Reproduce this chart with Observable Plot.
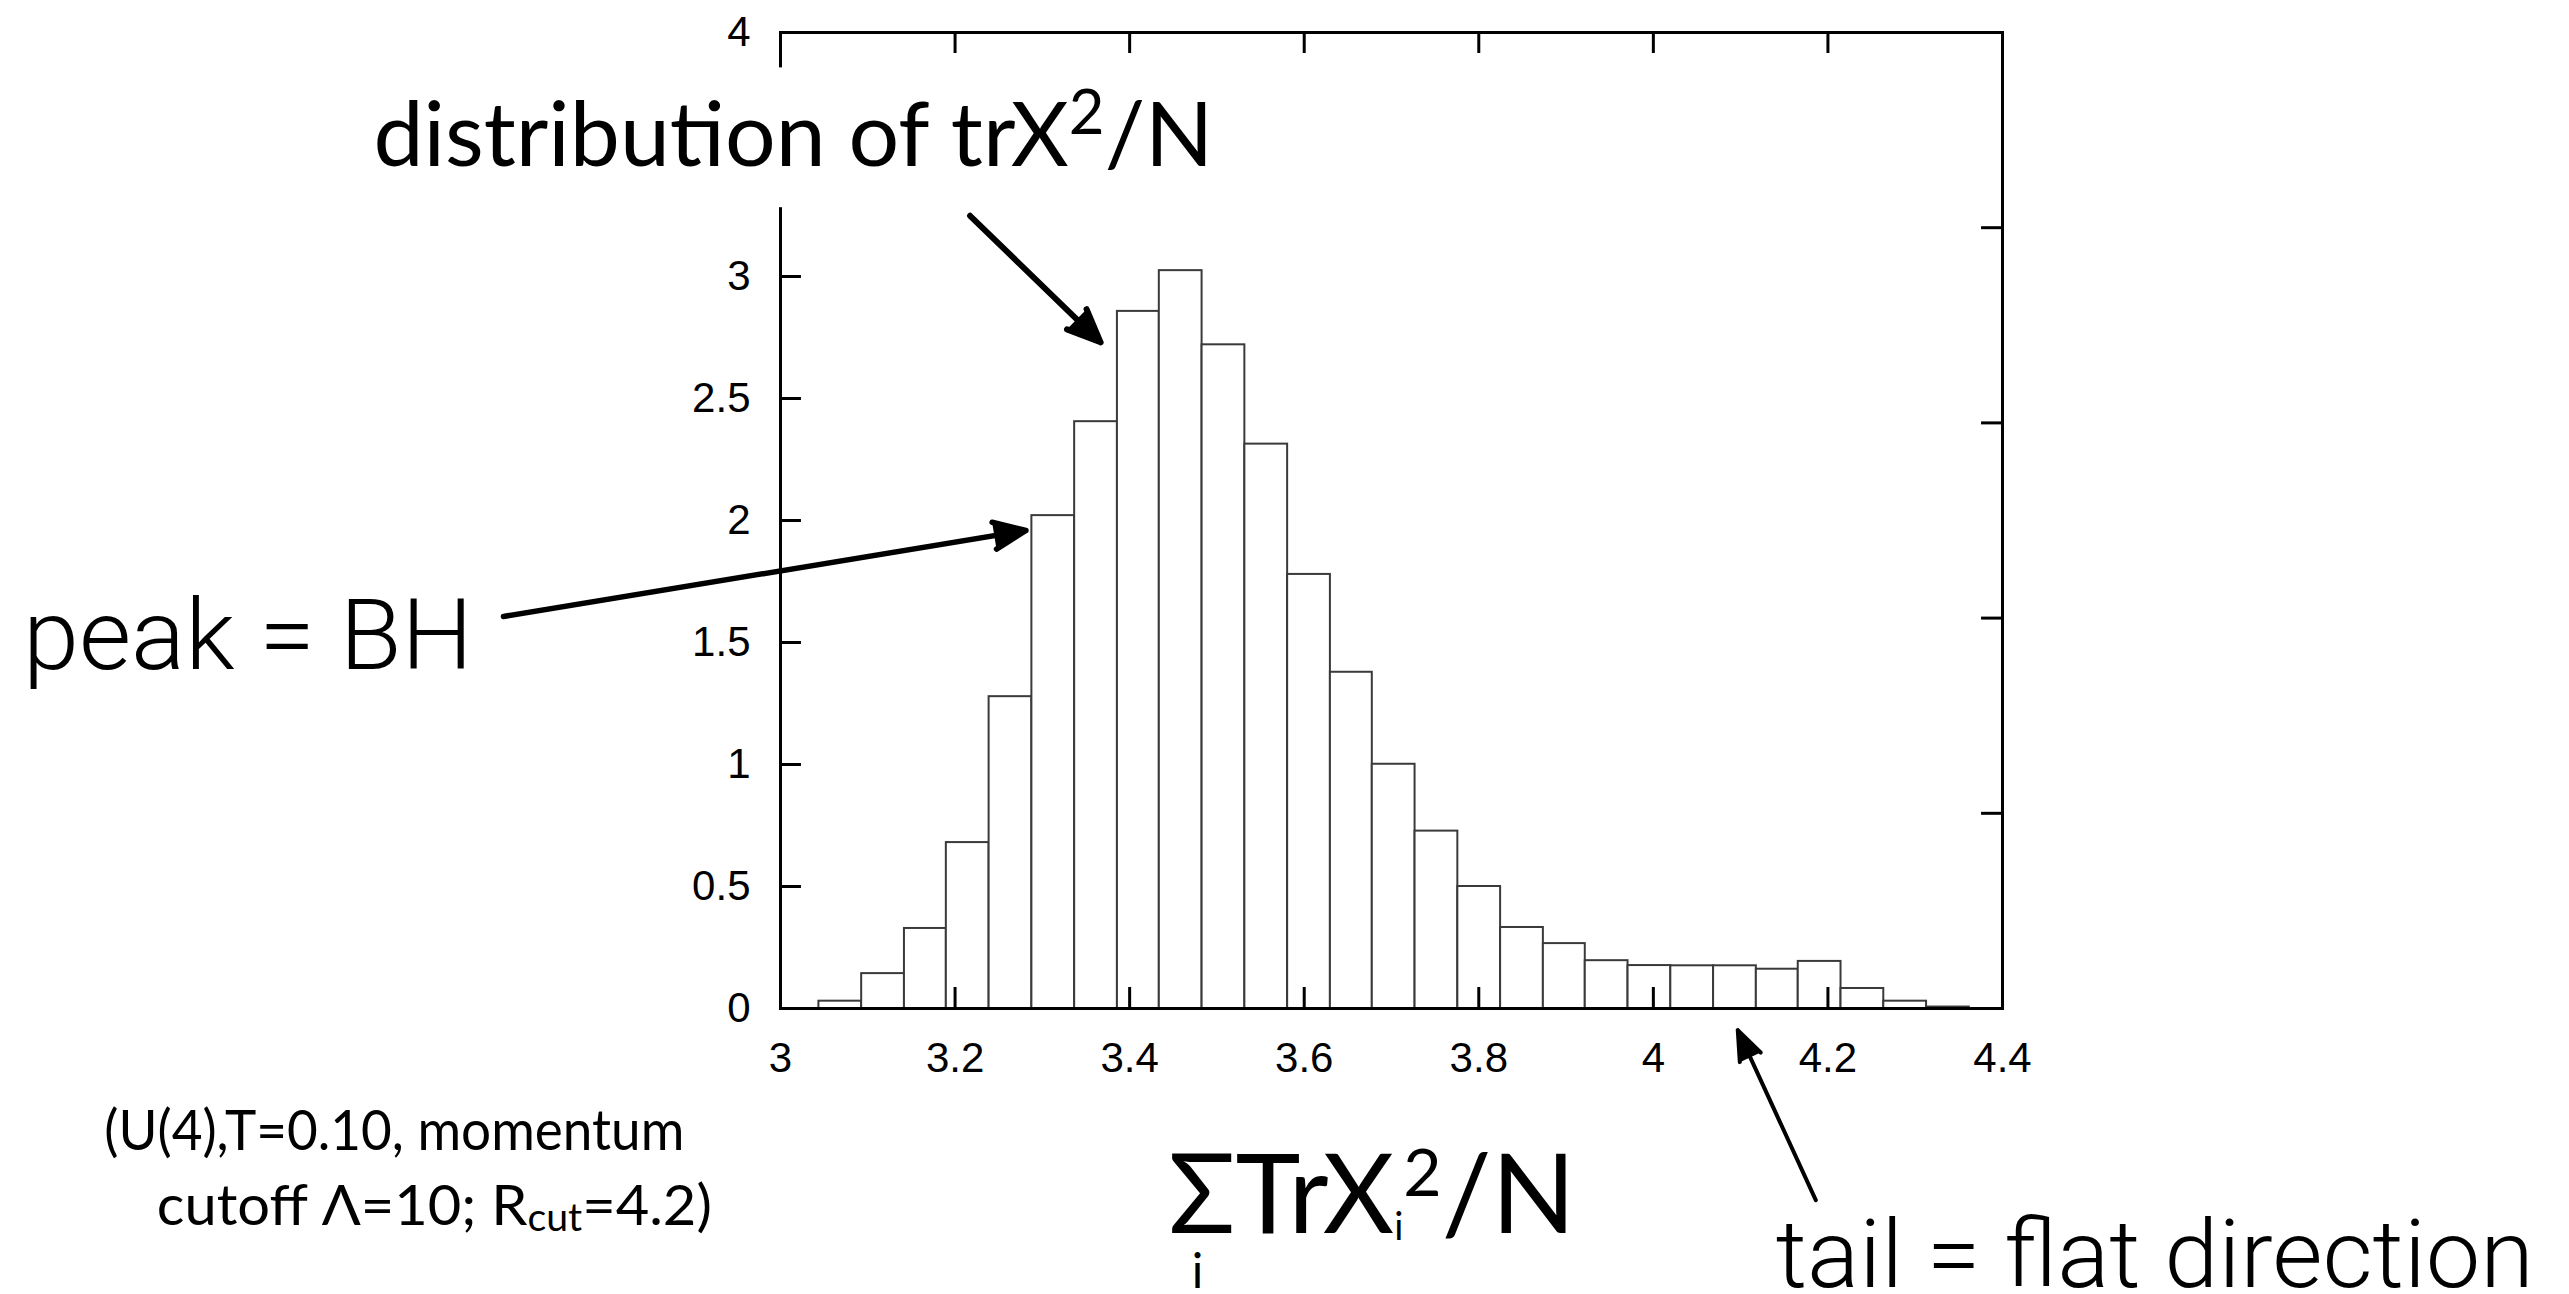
<!DOCTYPE html>
<html>
<head>
<meta charset="utf-8">
<script src="https://cdn.jsdelivr.net/npm/d3@7"></script>
<script src="https://cdn.jsdelivr.net/npm/@observablehq/plot@0.6"></script>
<style>
  html, body { margin: 0; padding: 0; background: #fff; overflow: hidden; }
  #chart svg { display: block; }
</style>
</head>
<body>
<div id="chart"></div>
<script>
// ---- data ----
const binEdges = [3.044, 3.093, 3.142, 3.190, 3.239, 3.288, 3.337, 3.386, 3.434, 3.483,
                  3.532, 3.581, 3.630, 3.678, 3.727, 3.776, 3.825, 3.874, 3.922, 3.971,
                  4.020, 4.069, 4.118, 4.166, 4.215, 4.264, 4.313, 4.362];
const density = [0.030, 0.143, 0.328, 0.680, 1.278, 2.020, 2.405, 2.857, 3.024, 2.720,
                 2.313, 1.779, 1.378, 1.001, 0.727, 0.500, 0.332, 0.266, 0.196, 0.176,
                 0.175, 0.175, 0.161, 0.193, 0.082, 0.030, 0.006];
const xTicks = [3, 3.2, 3.4, 3.6, 3.8, 4, 4.2, 4.4];
const yTicks = [0, 0.5, 1, 1.5, 2, 2.5, 3, 3.5, 4];
const rightTicks = [0.8, 1.6, 2.4, 3.2];

const bins = density.map((d, i) => ({x1: binEdges[i], x2: binEdges[i + 1], y: d}));
const xInner = xTicks.slice(1, -1);
const yInner = yTicks.slice(1, -1);

const gill = '"Gill Sans", "Gill Sans MT", Lato, "Noto Sans", sans-serif';
const helv = '"Helvetica Neue", Roboto, "Liberation Sans", sans-serif';
const tickFont = '"Liberation Sans", Arial, Helvetica, sans-serif';

const tx = 0.024, ty = 0.086; // inward tick lengths in data units

const chart = Plot.plot({
  width: 2569,
  height: 1294,
  marginLeft: 780,
  marginRight: 567,
  marginTop: 32,
  marginBottom: 286,
  style: {fontFamily: tickFont, fontSize: "42px", background: "white", color: "black"},
  x: {domain: [3, 4.4]},
  y: {domain: [0, 4]},
  marks: [
    Plot.rectY(bins, {x1: "x1", x2: "x2", y: "y", fill: "white", stroke: "#3a3a3a", strokeWidth: 2}),
    Plot.ruleX(xInner, {y1: 0, y2: ty, stroke: "black", strokeWidth: 3}),
    Plot.ruleX(xInner, {y1: 4, y2: 4 - ty, stroke: "black", strokeWidth: 3}),
    Plot.ruleY(yInner, {x1: 3, x2: 3 + tx, stroke: "black", strokeWidth: 3}),
    Plot.ruleY(rightTicks, {x1: 4.4, x2: 4.4 - tx, stroke: "black", strokeWidth: 3}),
    Plot.frame({stroke: "black", strokeWidth: 3}),
    Plot.axisX({ticks: xTicks, tickSize: 0, tickPadding: 34, tickFormat: d => String(d), label: null}),
    Plot.axisY({ticks: yTicks, tickSize: 0, tickPadding: 30, tickFormat: d => String(d), label: null}),
    // white box behind the top annotation
    Plot.rect([0], {x1: 2.52, x2: 3.516, y1: 3.282, y2: 3.855, fill: "white"}),
    // Gill-like annotations
    Plot.text([0], {x: 2.5336, y: 3.454, text: () => "distribution of trX2/N", textAnchor: "start", lineAnchor: "bottom", fontSize: 90, fontFamily: gill, fill: "black"}),
    Plot.text([0], {x: 2.2253, y: -0.5804, text: () => "(U(4),T=0.10, momentum", textAnchor: "start", lineAnchor: "bottom", fontSize: 56, fontFamily: gill, fill: "black"}),
    Plot.text([0], {x: 2.2855, y: -0.8876, text: () => "cutoff Λ=10; Rcut=4.2)", textAnchor: "start", lineAnchor: "bottom", fontSize: 56, fontFamily: gill, fill: "black"}),
    Plot.text([0], {x: 3.4446, y: -0.9205, text: () => "ΣTrXi2/N", textAnchor: "start", lineAnchor: "bottom", fontSize: 110, fontFamily: gill, fill: "black"}),
    Plot.text([0], {x: 3.4779, y: -1.145, text: () => "i", textAnchor: "middle", lineAnchor: "bottom", fontSize: 48, fontFamily: gill, fill: "black"}),
    // Helvetica-light-like annotations
    Plot.text([0], {x: 2.1321, y: 1.3926, text: () => "peak = BH", textAnchor: "start", lineAnchor: "bottom", fontSize: 98, fontFamily: helv, fontWeight: 300, fill: "black"}),
    Plot.text([0], {x: 4.1403, y: -1.1403, text: () => "tail = flat direction", textAnchor: "start", lineAnchor: "bottom", fontSize: 95, fontFamily: helv, fontWeight: 300, fill: "black"}),
    // arrows (headLength is relative to strokeWidth in Plot)
    Plot.arrow([0], {x1: 3.2172, y1: 3.2488, x2: 3.3667, y2: 2.7303, stroke: "black", strokeWidth: 6, headLength: 9, headAngle: 46}),
    Plot.arrow([0], {x1: 2.6826, y1: 1.6068, x2: 3.2812, y2: 1.9590, stroke: "black", strokeWidth: 5.5, headLength: 9.5, headAngle: 46}),
    Plot.arrow([0], {x1: 4.1861, y1: -0.7851, x2: 4.0967, y2: -0.0889, stroke: "black", strokeWidth: 4, headLength: 12, headAngle: 42})
  ]
});

// filled arrowheads (the head sub-path of each arrow closes into a triangle)
chart.querySelectorAll('g[aria-label="arrow"] path').forEach(p => {
  p.setAttribute("fill", "black");
  p.setAttribute("stroke-linejoin", "round");
});

// rich text (superscripts / subscripts) and width fitting
function rich(plain, parts, len) {
  chart.querySelectorAll("text").forEach(t => {
    if (t.textContent !== plain) return;
    t.textContent = "";
    for (const p of parts) {
      const s = document.createElementNS("http://www.w3.org/2000/svg", "tspan");
      s.textContent = p.t;
      if (p.size) s.setAttribute("font-size", p.size);
      if (p.dy) s.setAttribute("dy", p.dy);
      t.appendChild(s);
    }
    if (len) { t.setAttribute("textLength", len); t.setAttribute("lengthAdjust", "spacingAndGlyphs"); }
  });
}
function fit(plain, len) {
  chart.querySelectorAll("text").forEach(t => {
    if (t.textContent !== plain) return;
    t.setAttribute("textLength", len); t.setAttribute("lengthAdjust", "spacingAndGlyphs");
  });
}
rich("distribution of trX2/N", [{t: "distribution of trX"}, {t: "2", size: 62, dy: -32}, {t: "/N", dy: 32}], 840);
rich("cutoff Λ=10; Rcut=4.2)", [{t: "cutoff Λ=10; R"}, {t: "cut", size: 38, dy: 6}, {t: "=4.2)", dy: -6}], 555);
rich("ΣTrXi2/N", [{t: "ΣTrX"}, {t: "i", size: 38, dy: 7}, {t: "2", size: 66, dy: -44}, {t: "/N", dy: 37}], 407);
fit("(U(4),T=0.10, momentum", 580);
fit("peak = BH", 450);
fit("tail = flat direction", 758);

document.getElementById("chart").appendChild(chart);
</script>
</body>
</html>
